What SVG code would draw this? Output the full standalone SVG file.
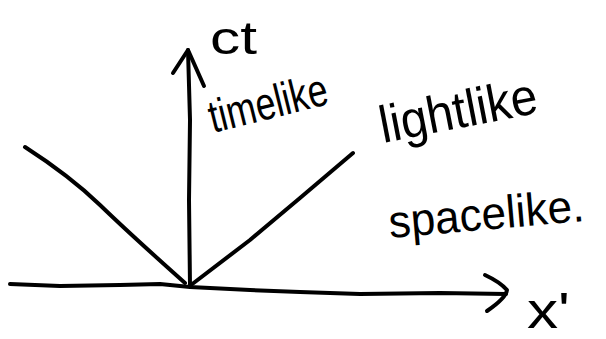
<svg xmlns="http://www.w3.org/2000/svg" width="606" height="339" viewBox="0 0 606 339">
<style>
.ln{fill:none;stroke:#000;stroke-width:4;stroke-linecap:round;stroke-linejoin:round}
.tx{font-family:"Liberation Sans",Arial,sans-serif;fill:#000}
</style>
<rect width="606" height="339" fill="#fff"/>
<g id="connectors">
<path id="time-axis" class="ln" d="M190,286 L189,200 L190,120 L188,50"/>
<path id="time-arrowhead" class="ln" d="M173,73 L188,50 L204,86"/>
<path id="space-axis" class="ln" d="M10,284 L60,286 L120,285 L160,284 L190,287 L250,290 L300,292 L360,294 L440,293 L506,294"/>
<path id="space-arrowhead" class="ln" d="M485,275 Q500,282 507,290 Q506,298 487,311"/>
<path id="light-left" class="ln" d="M25,147 Q70,176 100,205 T185,283"/>
<path id="light-right" class="ln" d="M191,285 L250,240 L300,198 L353,153"/>
</g>
<g id="label-ct"><text class="tx" x="210" y="54" font-size="46" textLength="47" lengthAdjust="spacingAndGlyphs">ct</text></g>
<g id="label-timelike"><text class="tx" transform="rotate(-14 213 133)" x="213" y="133" font-size="46" textLength="121" lengthAdjust="spacingAndGlyphs">timelike</text></g>
<g id="label-lightlike"><text class="tx" transform="rotate(-11 383 143)" x="383" y="143" font-size="52" textLength="160" lengthAdjust="spacingAndGlyphs">lightlike</text></g>
<g id="label-spacelike"><text class="tx" transform="rotate(-5 390 238)" x="390" y="238" font-size="46" textLength="196" lengthAdjust="spacingAndGlyphs">spacelike.</text></g>
<g id="label-x"><text class="tx" x="527" y="328" font-size="50" textLength="43" lengthAdjust="spacingAndGlyphs">x'</text></g>
</svg>
